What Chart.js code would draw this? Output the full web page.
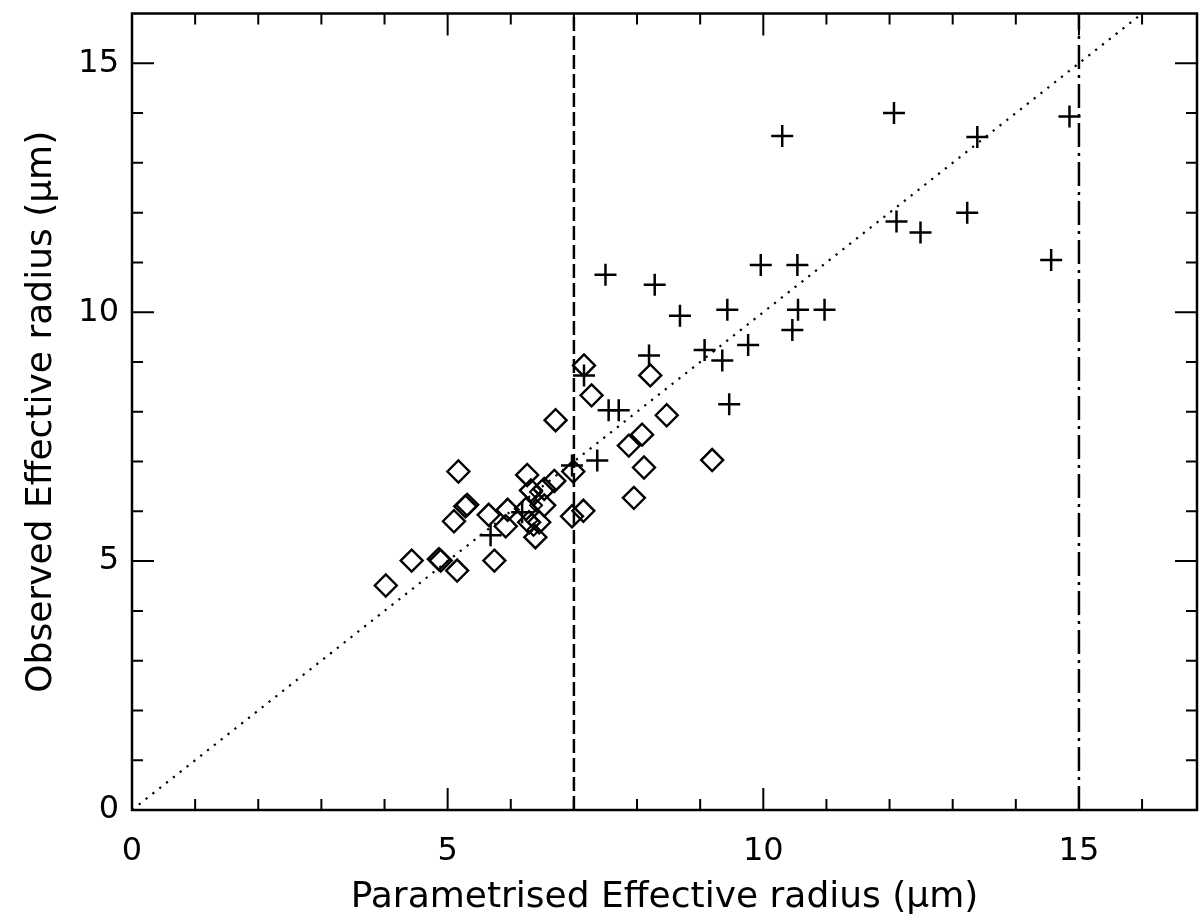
<!DOCTYPE html>
<html>
<head>
<meta charset="utf-8">
<title>Effective radius</title>
<script src="https://cdn.jsdelivr.net/npm/chart.js@4.4.1/dist/chart.umd.min.js"></script>
<style>
  html, body { margin: 0; padding: 0; background: #fff; overflow: hidden; }
  canvas { display: block; }
</style>
</head>
<body>
<canvas id="radiusChart" width="1201" height="919"></canvas>
<script>
// parametrised (x) vs observed (y) effective radius, in microns
const diamondX = [7.16, 8.21, 7.28, 6.71, 8.47, 8.08, 7.87, 8.11, 9.19, 7.95,
  5.17, 6.99, 6.26, 6.69, 6.32, 6.53, 6.53, 6.24, 5.95, 5.65,
  6.45, 6.29, 5.92, 6.39, 7.15, 6.97, 5.28, 5.31, 5.10, 5.74,
  4.43, 4.86, 4.89, 5.15, 4.02];
const diamondY = [8.93, 8.73, 8.33, 7.83, 7.93, 7.54, 7.32, 6.88, 7.03, 6.27,
  6.80, 6.80, 6.73, 6.61, 6.42, 6.45, 6.12, 6.05, 6.03, 5.93,
  5.78, 5.78, 5.70, 5.48, 6.01, 5.90, 6.10, 6.13, 5.80, 5.01,
  5.01, 5.04, 5.01, 4.81, 4.51];

// the little diamonds inside the crowded group near 6.4
const smallX = [6.40, 6.40, 6.33, 6.36];
const smallY = [6.39, 6.12, 5.82, 5.63];

const crossX = [6.97, 7.37, 7.55, 7.71, 7.16, 8.19, 9.07, 9.35, 9.46, 9.76,
  10.46, 10.55, 10.97, 9.43, 8.68, 8.28, 7.50, 9.96, 10.54, 10.30,
  12.07, 13.39, 14.85, 12.11, 12.49, 13.23, 14.56, 5.68, 6.18];
const crossY = [6.92, 7.02, 8.03, 8.03, 8.73, 9.13, 9.24, 9.03, 8.15, 9.34,
  9.64, 10.05, 10.05, 10.05, 9.93, 10.55, 10.75, 10.95, 10.95, 13.54,
  14.00, 13.52, 13.93, 11.82, 11.60, 12.00, 11.05, 5.52, 5.98];

const xTickLabels = [0, 5, 10, 15];
const yTickLabels = [0, 5, 10, 15];
const xMax = 16.87;
const yMax = 16;
const oneToOne = [0, 16];
const cutLow = 7;
const cutHigh = 15;

const toPoints = (xs, ys) => xs.map((v, i) => ({ x: v, y: ys[i] }));

// push the plot box out to the right margin after layout
const stretchRight = {
  id: "stretchRight",
  afterLayout(chart) {
    const x = chart.scales.x;
    const right = chart.width - 4;
    x.right = right;
    x.width = right - x.left;
    x.configure();
    chart.chartArea.right = right;
    chart.chartArea.width = right - chart.chartArea.left;
  }
};

// inward tick marks on all four sides plus the box
const frameTicks = {
  id: "frameTicks",
  afterDraw(chart) {
    const { ctx, chartArea: a, scales: { x, y } } = chart;
    ctx.save();
    ctx.strokeStyle = "#000";
    ctx.lineWidth = 2;
    ctx.beginPath();
    for (let v = 1; v < xMax; v++) {
      const px = x.getPixelForValue(v);
      const len = v % 5 === 0 ? 22 : 11;
      ctx.moveTo(px, a.bottom); ctx.lineTo(px, a.bottom - len);
      ctx.moveTo(px, a.top); ctx.lineTo(px, a.top + len);
    }
    for (let v = 1; v < yMax; v++) {
      const py = y.getPixelForValue(v);
      const len = v % 5 === 0 ? 22 : 11;
      ctx.moveTo(a.left, py); ctx.lineTo(a.left + len, py);
      ctx.moveTo(a.right, py); ctx.lineTo(a.right - len, py);
    }
    ctx.stroke();
    ctx.lineWidth = 2.5;
    ctx.strokeRect(a.left, a.top, a.right - a.left, a.bottom - a.top);
    ctx.restore();
  }
};

const tickFont = { family: "DejaVu Sans", size: 32, weight: "normal" };
const titleFont = { family: "DejaVu Sans", size: 36, weight: "normal" };

new Chart(document.getElementById("radiusChart"), {
  type: "scatter",
  data: {
    datasets: [
      {
        label: "one to one",
        type: "line",
        data: oneToOne.map(v => ({ x: v, y: v })),
        borderColor: "#000",
        borderWidth: 2.2,
        borderDash: [2.2, 6.5],
        pointRadius: 0,
        fill: false
      },
      {
        label: "lower cut",
        type: "line",
        data: [{ x: cutLow, y: 0 }, { x: cutLow, y: yMax }],
        borderColor: "#000",
        borderWidth: 2.5,
        borderDash: [14, 5],
        pointRadius: 0,
        fill: false
      },
      {
        label: "upper cut",
        type: "line",
        data: [{ x: cutHigh, y: 0 }, { x: cutHigh, y: yMax }],
        borderColor: "#000",
        borderWidth: 2.5,
        borderDash: [24, 6, 3, 6],
        pointRadius: 0,
        fill: false
      },
      {
        label: "diamonds",
        data: toPoints(diamondX, diamondY),
        pointStyle: "rectRot",
        pointRadius: 11,
        borderColor: "#000",
        borderWidth: 2.4,
        backgroundColor: "rgba(0,0,0,0)"
      },
      {
        label: "small diamonds",
        data: toPoints(smallX, smallY),
        pointStyle: "rectRot",
        pointRadius: 6,
        borderColor: "#000",
        borderWidth: 2,
        backgroundColor: "rgba(0,0,0,0)"
      },
      {
        label: "crosses",
        data: toPoints(crossX, crossY),
        pointStyle: "cross",
        pointRadius: 11,
        borderColor: "#000",
        borderWidth: 2.5
      }
    ]
  },
  options: {
    responsive: false,
    animation: false,
    layout: { padding: { top: 12, right: 4, left: 0, bottom: 0 } },
    plugins: {
      legend: { display: false },
      tooltip: { enabled: false }
    },
    scales: {
      x: {
        type: "linear",
        min: 0,
        max: xMax,
        border: { display: false },
        grid: { display: false, drawTicks: false },
        afterBuildTicks: s => { s.ticks = xTickLabels.map(v => ({ value: v })); },
        ticks: {
          padding: 22,
          autoSkip: false,
          color: "#000",
          font: tickFont,
          maxRotation: 0
        },
        title: {
          display: true,
          text: "Parametrised Effective radius (μm)",
          color: "#000",
          font: titleFont,
          padding: { top: 0, bottom: 0 }
        },
        afterFit: s => {
          s.height = 109;
          s.paddingLeft = 0;
          s.paddingRight = 0;
        }
      },
      y: {
        type: "linear",
        min: 0,
        max: yMax,
        border: { display: false },
        grid: { display: false, drawTicks: false },
        afterBuildTicks: s => { s.ticks = yTickLabels.map(v => ({ value: v })); },
        ticks: {
          padding: 13,
          autoSkip: false,
          color: "#000",
          font: tickFont
        },
        title: {
          display: true,
          text: "Observed Effective radius (μm)",
          color: "#000",
          font: titleFont,
          padding: { top: 20, bottom: 0 }
        },
        afterFit: s => {
          s.width = 132;
          s.paddingTop = 0;
          s.paddingBottom = 0;
        }
      }
    }
  },
  plugins: [stretchRight, frameTicks]
});
</script>
</body>
</html>
